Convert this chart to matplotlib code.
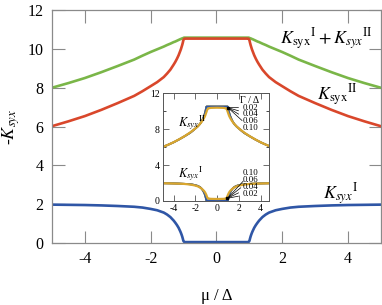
import numpy as np
import matplotlib
import matplotlib.pyplot as plt

matplotlib.use('Agg')

plt.rcParams['font.family'] = ['Liberation Serif', 'DejaVu Serif']
plt.rcParams['mathtext.fontset'] = 'stix'
plt.rcParams['axes.unicode_minus'] = False

# ---------------------------------------------------------
# data (positive half, mirrored since the curves are even in mu)
# ---------------------------------------------------------
mu_half = [0.0, 0.5, 0.9, 0.95, 0.98, 1.0, 1.01, 1.02, 1.04, 1.06, 1.08, 1.1,
           1.15, 1.2, 1.25, 1.3, 1.4, 1.5, 1.6, 1.8, 2.0, 2.25, 2.5, 3.0,
           3.5, 4.0, 4.5, 5.0]
k1_half = [0.05, 0.05, 0.05, 0.05, 0.06, 0.10, 0.15, 0.22, 0.34, 0.44, 0.53, 0.61,
           0.79, 0.93, 1.05, 1.16, 1.34, 1.47, 1.57, 1.69, 1.76, 1.83, 1.87, 1.91,
           1.94, 1.96, 1.97, 1.98]
k2_half = [10.53, 10.53, 10.53, 10.53, 10.52, 10.47, 10.41, 10.33, 10.20, 10.09, 9.98, 9.89,
           9.67, 9.49, 9.33, 9.19, 8.93, 8.73, 8.55, 8.29, 8.08, 7.82, 7.58, 7.21,
           6.86, 6.54, 6.27, 6.02]

# inset, Gamma/Delta = 0.10 (drawn on top)
mu_in_half = [0.0, 0.6, 0.8, 0.9, 1.0, 1.1, 1.2, 1.35, 1.5, 1.75, 2.0, 2.5,
              3.0, 3.5, 4.0, 4.5, 5.0]
k1_in_half = [0.22, 0.24, 0.28, 0.38, 0.70, 0.95, 1.12, 1.30, 1.45, 1.62, 1.72, 1.84,
              1.90, 1.93, 1.95, 1.97, 1.98]
k2_in_half = [10.40, 10.38, 10.32, 10.20, 9.85, 9.50, 9.25, 8.95, 8.70, 8.36, 8.08, 7.62,
              7.22, 6.87, 6.55, 6.27, 6.02]

gammas = ['0.02', '0.04', '0.06', '0.10']
gamma_colors = ['#d9472b', '#7ab648', '#2f56a6', '#d9a62e']
upper_y = [10.42, 9.66, 8.88, 8.1]
lower_y = [0.8, 1.56, 2.33, 3.1]


def mirror(xs, ys=None):
    xs = np.asarray(xs)
    if ys is None:
        return np.concatenate([-xs[::-1], xs[1:]])
    ys = np.asarray(ys)
    return np.concatenate([ys[::-1], ys[1:]])


mu = mirror(mu_half)
k1 = mirror(mu_half, k1_half)
k2 = mirror(mu_half, k2_half)
mu_in = mirror(mu_in_half)
k1_in = mirror(mu_in_half, k1_in_half)
k2_in = mirror(mu_in_half, k2_in_half)

c_sum, c_ii, c_i = '#7ab648', '#d9472b', '#2f56a6'
spine_c = '#8a8a8a'

fig = plt.figure(figsize=(3.82, 3.05), dpi=100)
ax = fig.add_axes([0.136, 0.203, 0.861, 0.764])

ax.plot(mu, k1 + k2, color=c_sum, lw=1.9)
ax.plot(mu, k2, color=c_ii, lw=1.9)
ax.plot(mu, k1, color=c_i, lw=1.9)

ax.set_xlim(-5, 5)
ax.set_ylim(0, 12)
ax.set_xticks([-4, -2, 0, 2, 4])
ax.set_yticks([0, 2, 4, 6, 8, 10, 12])
ax.tick_params(direction='in', length=9, width=0.8, color=spine_c,
               top=True, right=True, labelsize=11.5, pad=6)
for s in ax.spines.values():
    s.set_color(spine_c)
    s.set_linewidth(0.9)

ax.set_xlabel('μ / Δ', fontsize=12, labelpad=15)
ax.set_ylabel(r'-$K_{syx}$', fontsize=13, labelpad=4)

ax.text(4.75, 10.5, r'$K_{\mathrm{syx}}{}^{\mathrm{I}}+K_{syx}{}^{\mathrm{II}}$',
        fontsize=13, ha='right', va='center')
ax.text(4.3, 7.6, r'$K_{\mathrm{syx}}{}^{\mathrm{II}}$', fontsize=13,
        ha='right', va='center')
ax.text(4.3, 2.5, r'$K_{syx}{}^{\mathrm{I}}$', fontsize=13,
        ha='right', va='center')

# ---------------------------------------------------------
# inset
# ---------------------------------------------------------
ins = fig.add_axes([0.426, 0.341, 0.279, 0.353])
for col in gamma_colors[:3]:
    ins.plot(mu, k2, color=col, lw=1.3)
    ins.plot(mu, k1, color=col, lw=1.3)
ins.plot(mu_in, k2_in, color=gamma_colors[3], lw=1.6)
ins.plot(mu_in, k1_in, color=gamma_colors[3], lw=1.6)
ins.plot([1.0], [10.4], 's', color='k', ms=1.8)
ins.plot([0.95], [0.3], 's', color='k', ms=1.8)

ins.set_xlim(-5, 4.8)
ins.set_ylim(0, 12)
ins.set_xticks([-4, -2, 0, 2, 4])
ins.set_yticks([0, 4, 8, 12])
ins.set_yticks([2, 6, 10], minor=True)
ins.tick_params(direction='in', length=4, width=0.6, color='#555555',
                top=True, right=True, labelsize=7, pad=2)
ins.tick_params(which='minor', direction='in', length=2.5, width=0.5,
                left=True, right=True)
for s in ins.spines.values():
    s.set_color('#555555')
    s.set_linewidth(0.7)

ins.text(-3.6, 8.7, r'$K_{syx}{}^{\mathrm{II}}$', fontsize=9, ha='left', va='center')
ins.text(-3.6, 3.1, r'$K_{syx}{}^{\mathrm{I}}$', fontsize=9, ha='left', va='center')
ins.text(2.1, 11.25, 'Γ / Δ', fontsize=7, ha='left', va='center')

for g, yu, yl in zip(gammas, upper_y, lower_y):
    ins.annotate(g, xy=(1.0, 10.4), xytext=(2.35, yu), fontsize=6.3,
                 va='center', ha='left',
                 arrowprops=dict(arrowstyle='-', lw=0.5, color='k',
                                 shrinkA=1, shrinkB=0))
    ins.annotate(g, xy=(0.95, 0.3), xytext=(2.35, yl), fontsize=6.3,
                 va='center', ha='left',
                 arrowprops=dict(arrowstyle='-', lw=0.5, color='k',
                                 shrinkA=1, shrinkB=0))

plt.savefig('out.png', dpi=100)
plt.close(fig)
